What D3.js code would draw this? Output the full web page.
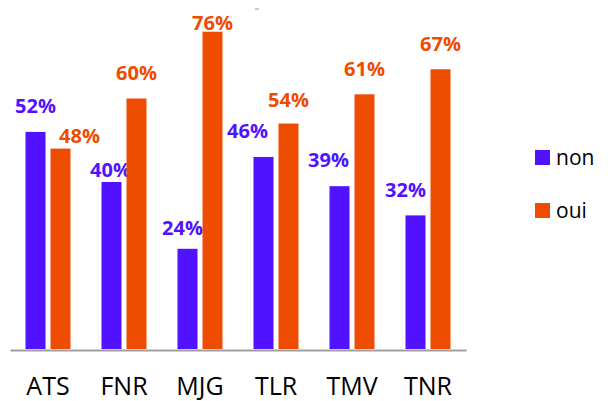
<!DOCTYPE html>
<html>
<head>
<meta charset="utf-8">
<script src="https://cdn.jsdelivr.net/npm/d3@7"></script>
<style>
  html, body { margin: 0; padding: 0; background: #fff; }
  svg { display: block; }
  text { font-family: "Open Sans", "DejaVu Sans", sans-serif; }
</style>
</head>
<body>
<div id="chart"></div>
<script>
// ---- data ----
const categories = ["ATS", "FNR", "MJG", "TLR", "TMV", "TNR"];
const seriesNames = ["non", "oui"];
const nonValues = [52, 40, 24, 46, 39, 32];
const ouiValues = [48, 60, 76, 54, 61, 67];

// ---- layout / style (not data) ----
const W = 611, H = 401;
const colors = { non: "#5012FF", oui: "#EE4C00" };
// manual label nudges (dx, dy) as placed in the original chart
const labelNudge = {
  non: [[0, 0], [-1, 14], [-5, 5], [-16, 0], [-11, 0], [-10, 1]],
  oui: [[19, 13], [0, 0], [0, 17], [0, 2], [0, 1], [0, 1]]
};

const svg = d3.select("#chart").append("svg")
  .attr("width", W).attr("height", H);

const x = d3.scaleBand().domain(categories).range([10, 466]).paddingInner(0).paddingOuter(0);
const xs = d3.scaleBand().domain(seriesNames).range([0, x.bandwidth()])
  .paddingInner(0.2).paddingOuter(0.62).align(0.5);
const y = d3.scaleLinear().domain([0, 80]).range([349, 15]);

const values = { non: nonValues, oui: ouiValues };

const groups = svg.selectAll("g.cat")
  .data(categories)
  .enter().append("g")
  .attr("class", "cat")
  .attr("transform", d => `translate(${x(d)},0)`);

seriesNames.forEach(s => {
  groups.append("rect")
    .attr("x", xs(s))
    .attr("width", xs.bandwidth())
    .attr("y", (d, i) => y(values[s][i]))
    .attr("height", (d, i) => y(0) - y(values[s][i]))
    .attr("fill", colors[s]);

  groups.append("text")
    .attr("x", (d, i) => xs(s) + xs.bandwidth() / 2 + labelNudge[s][i][0])
    .attr("y", (d, i) => y(values[s][i]) - 19 + labelNudge[s][i][1])
    .attr("text-anchor", "middle")
    .attr("font-size", 20)
    .attr("font-weight", "bold")
    .attr("fill", colors[s])
    .text((d, i) => values[s][i] + "%");
});

// x axis
const xAxis = d3.axisBottom(x).tickSize(0).tickPadding(0);
const gx = svg.append("g").attr("transform", `translate(0,${y(0) + 1})`).call(xAxis);
gx.select(".domain").attr("stroke", "#A0A0A0").attr("stroke-width", 2);
gx.selectAll(".tick text")
  .attr("dy", 0)
  .attr("y", 45)
  .attr("font-size", 25)
  .attr("font-family", "'Open Sans', sans-serif")
  .attr("fill", "#000");

// tiny mark at top (remnant in original)
svg.append("line")
  .attr("x1", 255).attr("x2", 259).attr("y1", 9).attr("y2", 9)
  .attr("stroke", "#8A90C8").attr("stroke-width", 1);

// legend
const legend = svg.append("g");
seriesNames.forEach((s, i) => {
  const ly = 150 + i * 53;
  legend.append("rect")
    .attr("x", 535).attr("y", ly).attr("width", 15).attr("height", 15)
    .attr("fill", colors[s]);
  legend.append("text")
    .attr("x", 556).attr("y", ly + 15)
    .attr("font-size", 21)
    .attr("fill", "#000")
    .text(s);
});
</script>
</body>
</html>
